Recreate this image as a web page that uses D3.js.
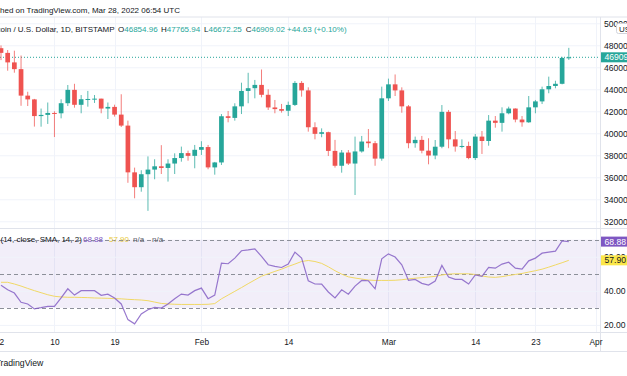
<!DOCTYPE html>
<html>
<head>
<meta charset="utf-8">
<script src="https://cdn.jsdelivr.net/npm/d3@7"></script>
<style>
  body { margin: 0; background: #ffffff; }
  svg { display: block; font-family: "Liberation Sans", Arial, sans-serif; }
</style>
</head>
<body>
<div id="container"></div>
<script>
let w = 627;
let h = 376;

// BTC/USD daily candles, Jan 2 -> Mar 28 2022
let firstDay = "2022-01-02";
let opens = [47738,47311,46446,45833,43425,43082,41566,41673,41850,41820,
  42735,43949,42591,43099,43120,43150,42250,42400,41700,40700,
  36450,35100,36280,36700,37000,36850,37250,37750,38200,37950,
  38500,38750,36900,37350,41550,41400,42450,43850,44100,44400,
  43500,42350,42200,42050,42580,44580,43900,40550,39950,40100,
  38400,37050,38250,37250,38350,39250,39100,37700,43180,44450,
  43900,42450,39100,39400,38420,37980,38780,41950,39450,38800,
  38850,37750,39700,39300,41150,40950,41820,42250,41250,41000,
  42360,42900,44000,44300,44500,46854.96];
let highs = [47990,47570,47510,47070,43780,43127,42250,42800,42000,43090,
  44390,44500,43480,43850,43480,43150,42800,42600,43550,41150,
  36880,36640,37900,37640,38920,37640,38180,38790,38420,38940,
  39280,38940,37400,41750,42030,42730,44600,45500,44850,45800,
  44000,43030,42670,42880,44750,44750,44180,41000,40450,40150,
  39400,38480,38480,39700,39760,40390,39300,44240,44970,45350,
  44180,42570,39700,39760,39550,39390,42570,42120,40210,39450,
  39240,39940,40210,41660,41570,42360,42420,42270,41570,43390,
  43030,44240,45150,44780,46950,47765.94];
let lows = [46654,45690,45510,42500,42480,40610,40600,40850,39660,41360,
  42480,42330,41820,42420,42760,41820,41300,41520,40570,35500,
  34090,34690,32950,35820,36300,35610,36300,37420,37510,36820,
  38030,36730,36240,37120,41000,41150,41750,42730,43180,43270,
  42120,41820,41880,41570,42480,43330,40150,39450,39640,37940,
  36880,36420,37120,34390,38240,38690,37050,37510,42940,43390,
  41870,38640,38690,38180,37180,37640,38640,38640,38330,38640,
  37640,37570,38120,38870,40510,40150,41730,41000,40600,40950,
  41820,42660,43640,44090,44450,46672.25];
let closes = [47311,46446,45833,43425,43082,41566,41673,41850,41820,42735,
  43949,42591,43099,43120,43150,42250,42400,41700,40700,36450,
  35100,36280,36700,37000,36850,37250,37750,38200,37950,38500,
  38750,36900,37350,41550,41400,42450,43850,44100,44400,43500,
  42350,42200,42050,42580,44580,43900,40550,39950,40100,38400,
  37050,38250,37250,38350,39250,39100,37700,43180,44450,43900,
  42450,39100,39400,38420,37980,38780,41950,39450,38800,38850,
  37750,39700,39300,41150,40950,41820,42250,41250,41000,42360,
  42900,44000,44300,44500,46850,46909.02];

// RSI(14) and its SMA(14)
let rsiValues = [43.2,40.6,38.7,33.3,32.3,29.4,30.1,30.9,30.9,35.8,
  41.2,37.5,40.1,40.1,40.1,37.4,38.0,35.8,32.3,23.1,
  20.6,26.4,28.9,30.3,29.9,32.3,35.4,38.1,37.5,40.1,
  41.6,35.4,37.5,56.3,55.9,59.2,63.5,64.0,64.6,60.2,
  55.3,54.3,53.7,55.7,62.7,59.2,45.9,44.0,43.9,39.3,
  35.8,40.6,38.0,42.8,46.1,45.9,41.2,58.8,61.7,59.8,
  55.3,46.1,46.7,44.4,43.4,45.7,54.9,48.1,46.7,46.7,
  44.0,49.4,48.5,53.7,53.3,55.7,56.8,53.3,52.7,57.6,
  59.2,62.1,62.7,63.3,69.3,68.88];
let rsiMaValues = [45.0,45.0,44.0,42.8,41.4,40.1,38.9,37.7,36.8,36.4,
  36.2,36.2,36.1,36.0,35.8,35.7,35.6,35.4,35.3,35.0,
  34.8,34.6,34.2,33.4,32.6,32.3,32.1,32.0,32.0,32.0,
  32.0,32.1,32.5,35.3,37.5,39.7,41.9,44.2,46.4,48.6,
  50.0,51.4,52.7,54.3,55.7,57.2,57.8,57.2,56.1,54.1,
  51.8,49.8,48.2,47.5,46.9,46.3,46.1,46.1,46.1,46.2,
  46.5,47.0,47.4,47.7,48.1,48.5,49.3,49.8,50.0,50.0,
  50.0,49.6,48.7,48.1,47.9,48.3,49.0,49.6,50.2,51.0,
  51.8,52.7,53.9,55.2,56.5,57.90];

// axis ticks
let dateTicks = ["2022-01-01","2022-01-10","2022-01-19","2022-02-01","2022-02-14","2022-03-01","2022-03-14","2022-03-23","2022-04-01"];
let dateTickLabels = ["2022","10","19","Feb","14","Mar","14","23","Apr"];
let priceTicks = [32000,34000,36000,38000,40000,42000,44000,46000,48000,50000];
let rsiTicks = [20,40,60];
let rsiBands = [70,50,30];

// header text
let publishedText = "Published on TradingView.com, Mar 28, 2022 06:54 UTC";
let symbolText = "Bitcoin / U.S. Dollar, 1D, BITSTAMP";
let ohlcLabels = ["O","H","L","C"];
let ohlcText = ["46854.96","47765.94","46672.25","46909.02"];
let changeText = "+44.63 (+0.10%)";

let green = "#26a69a";
let red = "#ef5350";
let purple = "#7e57c2";
let yellow = "#f0d865";
let textColor = "#131722";
let gridColor = "#f0f3fa";
let lineColor = "#e0e3eb";

// layout
let axisX = 600.5;
let priceTop = 17, priceBottom = 228.5;
let rsiTop = 228.5, rsiBottom = 332.5;
let chartBottom = 351.5;

let parseDay = d3.utcParse("%Y-%m-%d");
let start = parseDay(firstDay);

let days = closes.map(function (c, i) {
  return {
    date: d3.utcDay.offset(start, i),
    open: opens[i], high: highs[i], low: lows[i], close: c,
    rsi: rsiValues[i], ma: rsiMaValues[i]
  };
});

let viz = d3.select("#container")
  .append("svg")
  .attr("width", w)
  .attr("height", h)
  .style("background-color", "#ffffff");

let xScale = d3.scaleUtc()
  .domain([start, days[days.length - 1].date])
  .range([1, 568.8]);

let yScale = d3.scaleLinear().domain([32000, 50000]).range([221.3, 23.3]);
let rsiScale = d3.scaleLinear().domain([20, 70]).range([324.9, 239.7]);

let defs = viz.append("defs");
defs.append("clipPath").attr("id", "priceClip").append("rect")
  .attr("x", 0).attr("y", priceTop).attr("width", axisX).attr("height", priceBottom - priceTop);
defs.append("clipPath").attr("id", "rsiClip").append("rect")
  .attr("x", 0).attr("y", rsiTop).attr("width", axisX).attr("height", rsiBottom - rsiTop);

// vertical grid over both panes
let tickDates = dateTicks.map(parseDay);
let vGrid = viz.append("g").attr("clip-path", "url(#priceClip)");
let vGrid2 = viz.append("g").attr("clip-path", "url(#rsiClip)");
[vGrid, vGrid2].forEach(function (g) {
  g.selectAll("line").data(tickDates).enter().append("line")
    .attr("x1", d => Math.round(xScale(d)) + 0.5)
    .attr("x2", d => Math.round(xScale(d)) + 0.5)
    .attr("y1", priceTop).attr("y2", rsiBottom)
    .attr("stroke", gridColor);
});

// horizontal price grid
let priceGridAxis = d3.axisLeft(yScale).tickValues(priceTicks).tickSize(-axisX).tickFormat("");
let priceGrid = viz.append("g").attr("clip-path", "url(#priceClip)").call(priceGridAxis);
priceGrid.select(".domain").remove();
priceGrid.selectAll("line").attr("stroke", gridColor);

// current price line
let last = days[days.length - 1];
viz.append("line")
  .attr("x1", 0).attr("x2", axisX)
  .attr("y1", yScale(last.close)).attr("y2", yScale(last.close))
  .attr("stroke", green).attr("stroke-width", 1)
  .attr("stroke-dasharray", "1,2");

// candles
let bodyWidth = 4.7;
let candleGroup = viz.append("g").attr("clip-path", "url(#priceClip)");
let candles = candleGroup.selectAll(".candle").data(days).enter()
  .append("g").attr("class", "candle");

function candleColor(d) {
  return d.close >= d.open ? green : red;
}

candles.append("line")
  .attr("x1", d => xScale(d.date)).attr("x2", d => xScale(d.date))
  .attr("y1", d => yScale(d.high)).attr("y2", d => yScale(d.low))
  .attr("stroke", candleColor).attr("stroke-width", 1)
  .attr("stroke-opacity", 0.75);

candles.append("rect")
  .attr("x", d => xScale(d.date) - bodyWidth / 2)
  .attr("width", bodyWidth)
  .attr("y", d => yScale(Math.max(d.open, d.close)))
  .attr("height", d => Math.max(1, Math.abs(yScale(d.open) - yScale(d.close))))
  .attr("fill", candleColor);

// RSI pane
let rsiPane = viz.append("g").attr("clip-path", "url(#rsiClip)");
rsiPane.append("rect")
  .attr("x", 0).attr("width", axisX)
  .attr("y", rsiScale(70)).attr("height", rsiScale(30) - rsiScale(70))
  .attr("fill", purple).attr("fill-opacity", 0.1);

let rsiGridAxis = d3.axisLeft(rsiScale).tickValues(rsiTicks).tickSize(-axisX).tickFormat("");
let rsiGrid = rsiPane.append("g").call(rsiGridAxis);
rsiGrid.select(".domain").remove();
rsiGrid.selectAll("line").attr("stroke", gridColor);

rsiPane.selectAll(".band").data(rsiBands).enter().append("line")
  .attr("x1", 0).attr("x2", axisX)
  .attr("y1", d => Math.round(rsiScale(d)) + 0.5).attr("y2", d => Math.round(rsiScale(d)) + 0.5)
  .attr("stroke", "#8c8f99").attr("stroke-dasharray", "4,3");

let rsiLine = d3.line().x(d => xScale(d.date)).y(d => rsiScale(d.rsi));
let maLine = d3.line().x(d => xScale(d.date)).y(d => rsiScale(d.ma));

rsiPane.append("path").datum(days).attr("d", maLine)
  .attr("fill", "none").attr("stroke", yellow).attr("stroke-width", 1);
rsiPane.append("path").datum(days).attr("d", rsiLine)
  .attr("fill", "none").attr("stroke", purple).attr("stroke-width", 1.2)
  .attr("stroke-opacity", 0.8);

// RSI legend, clipped at the left edge like the snapshot
let legend = viz.append("text").attr("y", 242).attr("font-size", 8).attr("fill", textColor);
let legendName = "RSI (14, close, SMA, 14, 2)";
legend.text(legendName);
let legendCut = legend.node().getSubStringLength(0, 4);
legend.attr("x", 0.5 - legendCut);
let legendValues = [
  { t: "68.88", x: 83, c: purple },
  { t: "57.90", x: 109, c: "#e8c93a" },
  { t: "n/a", x: 133, c: "#5d606b" },
  { t: "n/a", x: 152, c: "#5d606b" }
];
viz.selectAll(".legendValue").data(legendValues).enter().append("text")
  .attr("class", "legendValue")
  .attr("x", d => d.x).attr("y", 242)
  .attr("font-size", 8).attr("fill", d => d.c)
  .text(d => d.t);

// pane borders
let hLines = [priceTop, rsiTop, rsiBottom, chartBottom];
viz.selectAll(".sep").data(hLines).enter().append("line")
  .attr("x1", 0).attr("x2", w)
  .attr("y1", d => d).attr("y2", d => d)
  .attr("stroke", lineColor);
viz.append("line")
  .attr("x1", axisX).attr("x2", axisX)
  .attr("y1", priceTop).attr("y2", chartBottom)
  .attr("stroke", lineColor);

// price axis
let priceAxis = d3.axisRight(yScale).tickValues(priceTicks).tickSize(0).tickPadding(3.5)
  .tickFormat(d3.format("d"));
let priceAxisGroup = viz.append("g").attr("transform", "translate(" + axisX + ",0)").call(priceAxis);
priceAxisGroup.select(".domain").remove();
priceAxisGroup.selectAll("text").attr("font-size", 8.6).attr("fill", textColor)
  .attr("font-family", "Liberation Sans, Arial, sans-serif");

// rsi axis
let rsiAxis = d3.axisRight(rsiScale).tickValues(rsiTicks).tickSize(0).tickPadding(3.5)
  .tickFormat(d3.format(".2f"));
let rsiAxisGroup = viz.append("g").attr("transform", "translate(" + axisX + ",0)").call(rsiAxis);
rsiAxisGroup.select(".domain").remove();
rsiAxisGroup.selectAll("text").attr("font-size", 8.6).attr("fill", textColor)
  .attr("font-family", "Liberation Sans, Arial, sans-serif");

// last value tags on the right scale
let tags = [
  { y: yScale(last.close), t: ohlcText[3], bg: green, fg: "#ffffff" },
  { y: rsiScale(last.rsi), t: "68.88", bg: purple, fg: "#ffffff" },
  { y: rsiScale(last.ma), t: "57.90", bg: "#fbe74a", fg: textColor }
];
let tagGroups = viz.selectAll(".tag").data(tags).enter().append("g").attr("class", "tag");
tagGroups.append("rect")
  .attr("x", axisX + 0.5).attr("width", w - axisX)
  .attr("y", d => d.y - 5).attr("height", 10)
  .attr("fill", d => d.bg);
tagGroups.append("text")
  .attr("x", axisX + 4).attr("y", d => d.y + 3)
  .attr("font-size", 8.6).attr("fill", d => d.fg)
  .text(d => d.t);

// currency button
viz.append("rect").attr("x", 616.5).attr("y", 23.5).attr("width", 22).attr("height", 10)
  .attr("rx", 2).attr("fill", "#ffffff").attr("stroke", "#d1d4dc");
viz.append("text").attr("x", 619).attr("y", 31.5).attr("font-size", 8).attr("fill", textColor).text("USD");

// time axis
let timeAxis = d3.axisBottom(xScale).tickValues(tickDates).tickSize(0).tickPadding(6.5)
  .tickFormat((d, i) => dateTickLabels[i]);
let timeAxisGroup = viz.append("g").attr("transform", "translate(0," + rsiBottom + ")").call(timeAxis);
timeAxisGroup.select(".domain").remove();
timeAxisGroup.selectAll("text").attr("font-size", 8.3).attr("fill", textColor)
  .attr("font-family", "Liberation Sans, Arial, sans-serif");

// header
let published = viz.append("text").attr("y", 12.5).attr("font-size", 8).attr("fill", textColor).text(publishedText);
published.attr("x", -published.node().getSubStringLength(0, 6));

let symbol = viz.append("text").attr("y", 31.5).attr("font-size", 8).attr("fill", textColor).text(symbolText);
symbol.attr("x", 0.5 - symbol.node().getSubStringLength(0, 4));

let ohlcX = [118, 161, 204, 245.7];
ohlcLabels.forEach(function (lab, i) {
  let t = viz.append("text").attr("x", ohlcX[i]).attr("y", 31.5).attr("font-size", 8).attr("fill", textColor);
  t.append("tspan").text(lab);
  t.append("tspan").attr("fill", green).text(ohlcText[i]);
});
viz.append("text").attr("x", 287).attr("y", 31.5).attr("font-size", 8).attr("fill", green).text(changeText);

// footer
viz.append("text").attr("x", -4.5).attr("y", 366).attr("font-size", 8.7).attr("fill", textColor).text("TradingView");
</script>
</body>
</html>
